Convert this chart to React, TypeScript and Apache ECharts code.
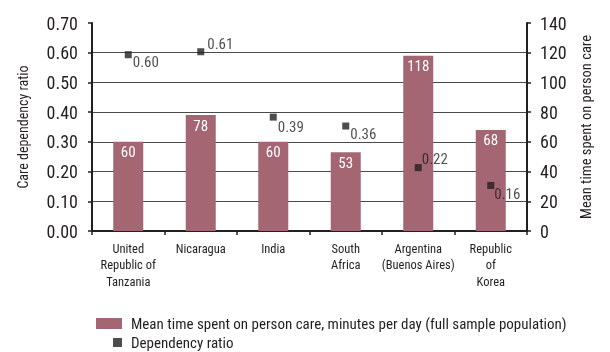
import React, { useEffect, useRef } from "react";
import * as echarts from "echarts";

const categories = [
  "United\nRepublic of\nTanzania",
  "Nicaragua",
  "India",
  "South\nAfrica",
  "Argentina\n(Buenos Aires)",
  "Republic\nof\nKorea",
];
const meanTime = [60, 78, 60, 53, 118, 68];
const dependencyRatio = [0.6, 0.61, 0.39, 0.36, 0.22, 0.16];
const ratioLabelOffsets = [
  [1, 7],
  [3, -8],
  [1, 10],
  [1, 8],
  [0, -9],
  [0, 9],
];
const leftTicks = { min: 0, max: 0.7, interval: 0.1 };
const rightTicks = { min: 0, max: 140, interval: 20 };

const barName = "Mean time spent on person care, minutes per day (full sample population)";
const dotName = "Dependency ratio";

const FONT = "'Roboto Condensed', 'Liberation Sans', sans-serif";
const DARK = "#231f20";
const BAR = "#a36672";

export default function App() {
  const ref = useRef<HTMLDivElement>(null);
  useEffect(() => {
    if (!ref.current) return;
    const chart = echarts.init(ref.current, undefined, { renderer: "svg" });
    chart.setOption({
      animation: false,
      textStyle: { fontFamily: FONT, color: DARK },
      grid: { left: 92, right: 83, top: 23, bottom: 121 },
      legend: [
        {
          data: [{ name: barName, icon: "rect" }],
          left: 96,
          top: 316,
          padding: 0,
          itemWidth: 26,
          itemHeight: 11,
          textStyle: { fontFamily: FONT, fontSize: 15, color: DARK, lineHeight: 14, padding: [0, 0, 0, 4] },
        },
        {
          data: [{ name: dotName, icon: "rect" }],
          left: 113,
          top: 335,
          padding: 0,
          itemWidth: 9,
          itemHeight: 9,
          textStyle: { fontFamily: FONT, fontSize: 15, color: DARK, lineHeight: 14, padding: [0, 0, 0, 4] },
        },
      ],
      xAxis: {
        type: "category",
        data: categories,
        axisLine: { lineStyle: { color: DARK, width: 2 } },
        axisTick: { show: true, length: 4, lineStyle: { color: DARK, width: 1.5 } },
        axisLabel: { fontFamily: FONT, fontSize: 12.5, color: DARK, lineHeight: 16.5, margin: 9, interval: 0 },
      },
      yAxis: [
        {
          type: "value",
          min: leftTicks.min,
          max: leftTicks.max,
          interval: leftTicks.interval,
          position: "left",
          name: "Care dependency ratio",
          nameLocation: "middle",
          nameGap: 62,
          nameTextStyle: { fontFamily: FONT, fontSize: 14, color: DARK },
          axisLine: { show: true, lineStyle: { color: DARK, width: 2 } },
          axisTick: { show: true, length: 4, lineStyle: { color: DARK, width: 1.5 } },
          axisLabel: {
            fontFamily: FONT,
            fontSize: 18,
            color: DARK,
            margin: 14,
            formatter: (v: number) => v.toFixed(2),
          },
          splitLine: { show: true, showMaxLine: false, lineStyle: { color: "#4a4a4a", width: 1 } },
        },
        {
          type: "value",
          min: rightTicks.min,
          max: rightTicks.max,
          interval: rightTicks.interval,
          position: "right",
          name: "Mean time spent on person care",
          nameLocation: "middle",
          nameGap: 52,
          nameRotate: 90,
          nameTextStyle: { fontFamily: FONT, fontSize: 14.5, color: DARK },
          axisLine: { show: true, lineStyle: { color: DARK, width: 2 } },
          axisTick: { show: true, length: 4, lineStyle: { color: DARK, width: 1.5 } },
          axisLabel: { fontFamily: FONT, fontSize: 18, color: DARK, margin: 13 },
          splitLine: { show: false },
        },
      ],
      series: [
        {
          name: barName,
          type: "bar",
          yAxisIndex: 1,
          data: meanTime,
          barWidth: 30,
          itemStyle: { color: BAR },
          label: {
            show: true,
            position: "insideTop",
            distance: 3,
            color: "#ffffff",
            fontFamily: FONT,
            fontSize: 15,
          },
        },
        {
          name: dotName,
          type: "scatter",
          yAxisIndex: 0,
          symbol: "rect",
          symbolSize: 7,
          symbolOffset: [0, 2],
          itemStyle: { color: DARK },
          data: dependencyRatio.map((v, i) => ({
            value: v,
            label: { offset: ratioLabelOffsets[i] },
          })),
          label: {
            show: true,
            position: "right",
            distance: 0,
            color: DARK,
            fontFamily: FONT,
            fontSize: 15,
            formatter: (p: any) => Number(p.value).toFixed(2),
          },
        },
      ],
    });
    return () => chart.dispose();
  }, []);
  return <div ref={ref} style={{ position: "fixed", left: 0, top: 0, width: 610, height: 352 }} />;
}
